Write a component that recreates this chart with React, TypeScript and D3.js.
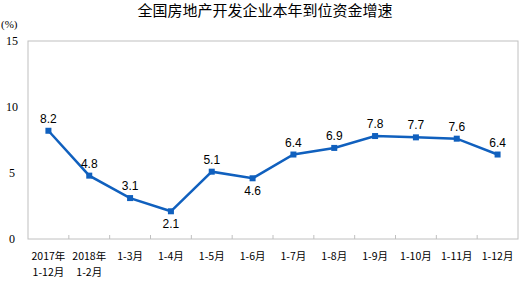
import React from "react";
import * as d3 from "d3";

const categories = ["2017年\n1-12月", "2018年\n1-2月", "1-3月", "1-4月", "1-5月", "1-6月", "1-7月", "1-8月", "1-9月", "1-10月", "1-11月", "1-12月"];
const values = [8.2, 4.8, 3.1, 2.1, 5.1, 4.6, 6.4, 6.9, 7.8, 7.7, 7.6, 6.4];
const labelBelow = [false, false, false, true, false, true, false, false, false, false, false, false];
const yTicks = [0, 5, 10, 15];
const title = "全国房地产开发企业本年到位资金增速";

export default function App() {
  const W = 529, H = 281;
  const left = 28, right = 518, top = 41, bottom = 239;
  const x = d3.scaleBand<number>().domain(d3.range(categories.length)).range([left, right]);
  const y = d3.scaleLinear().domain([0, 15]).range([bottom, top]);
  const color = "#1060BE";
  const line = d3.line<number>().x((_, i) => x(i)! + x.bandwidth() / 2).y((d) => y(d));
  return (
    <svg width={W} height={H} style={{ position: "absolute", left: 0, top: 0, background: "#fff" }}>
      <text x={265} y={16} textAnchor="middle" fontFamily="'Noto Sans CJK SC', sans-serif" fontSize={15} fill="#000">{title}</text>
      <text x={1} y={28} fontFamily="'Liberation Serif', serif" fontSize={11} fill="#000">(%)</text>
      <rect x={left} y={top} width={right - left} height={bottom - top} fill="none" stroke="#c0c0c0" strokeWidth={1} />
      {yTicks.map((t) => (
        <text key={t} x={t >= 10 ? 6 : 9} y={y(t) + 4} fontFamily="'Liberation Serif', serif" fontSize={12} fill="#000">{t}</text>
      ))}
      {d3.range(1, categories.length).map((i) => (
        <line key={i} x1={x(i)!} x2={x(i)!} y1={bottom} y2={bottom - 4} stroke="#c0c0c0" />
      ))}
      {categories.map((c, i) => {
        const lines = c.split("\n");
        const cx = x(i)! + x.bandwidth() / 2;
        return (
          <text key={i} x={cx} y={260} textAnchor="middle" fontFamily="'Noto Sans CJK SC', sans-serif" fontSize={10.5} fill="#000">
            {lines.map((l, j) => (
              <tspan key={j} x={cx} dy={j === 0 ? 0 : 15.5}>{l}</tspan>
            ))}
          </text>
        );
      })}
      <path d={line(values) || ""} fill="none" stroke={color} strokeWidth={2.5} />
      {values.map((v, i) => {
        const cx = x(i)! + x.bandwidth() / 2;
        return (
          <g key={i}>
            <rect x={cx - 3} y={y(v) - 3} width={6} height={6} fill={color} />
            <text x={cx} y={labelBelow[i] ? y(v) + 17 : y(v) - 8} textAnchor="middle" fontFamily="'Liberation Sans', Arial, sans-serif" fontSize={12} fill="#000">{v.toFixed(1)}</text>
          </g>
        );
      })}
    </svg>
  );
}
